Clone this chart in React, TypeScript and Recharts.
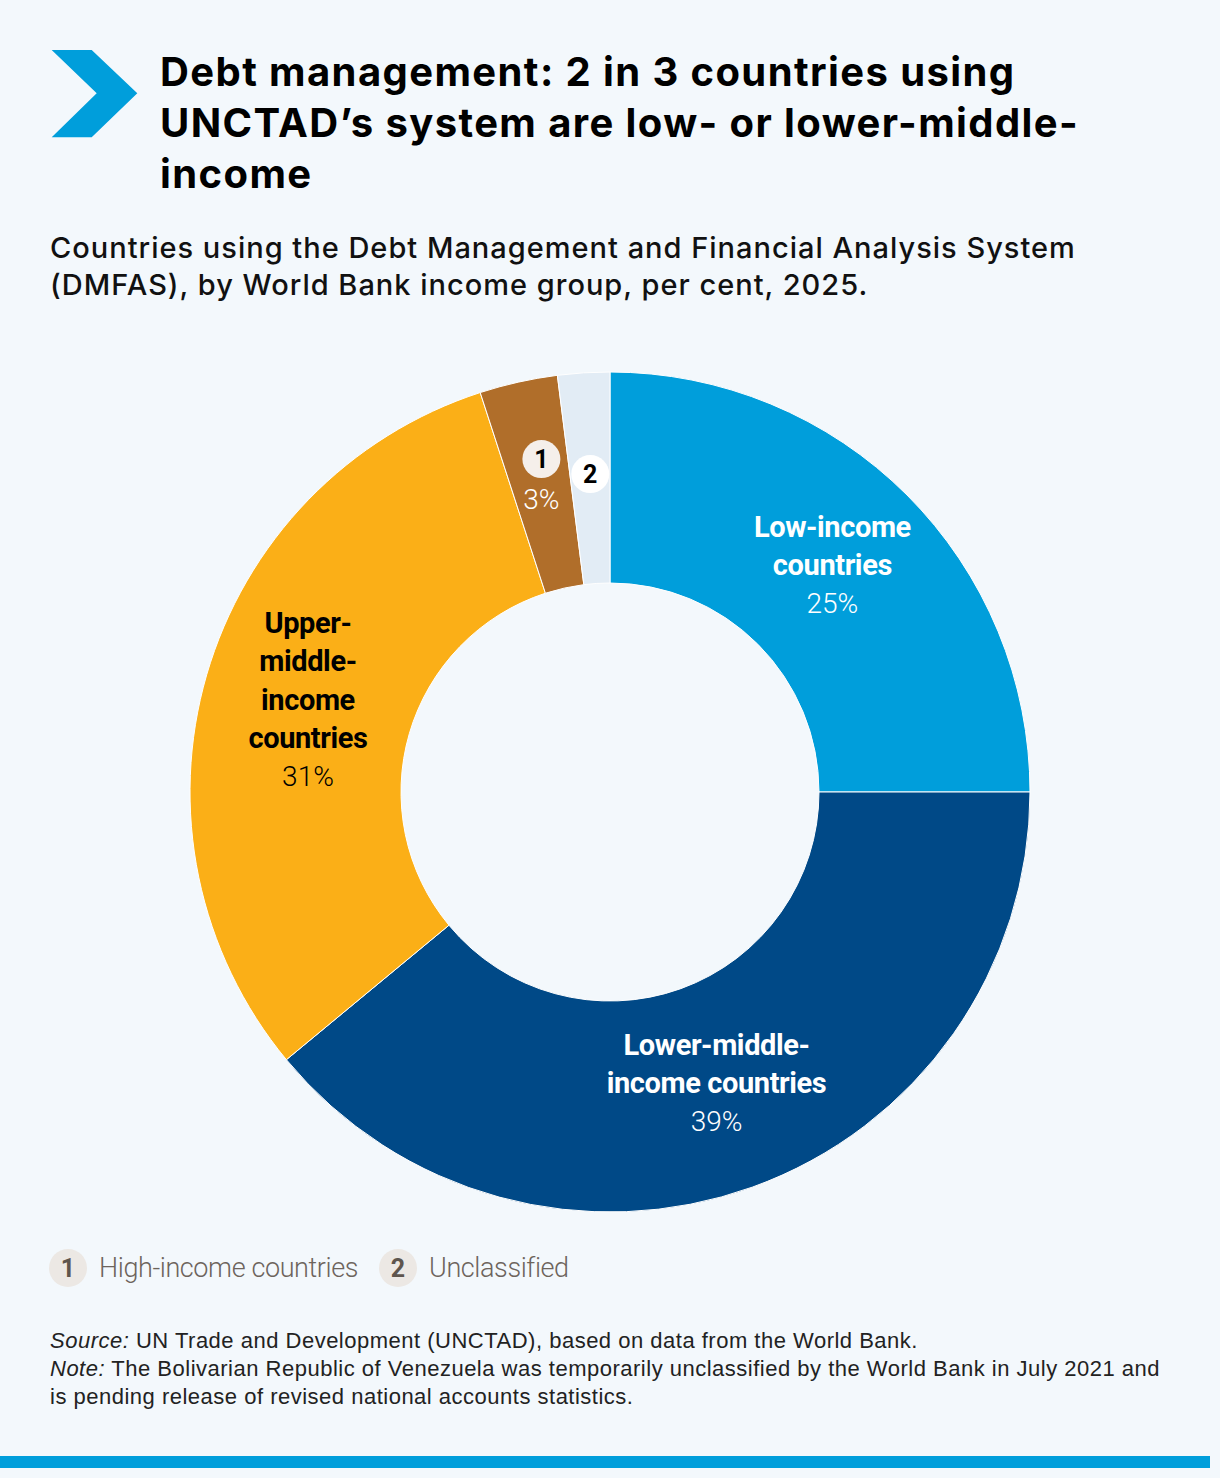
import { Cell, Pie, PieChart } from 'recharts';

const categories = [
  'Low-income countries',
  'Lower-middle-income countries',
  'Upper-middle-income countries',
  'High-income countries',
  'Unclassified',
];
const shares = [25, 39, 31, 3, 2];
const sliceColors = ['#009edb', '#004987', '#fbaf17', '#b06e2a', '#e2ecf5'];
// label lines drawn inside each slice (empty = numbered marker instead)
const sliceLabelLines = [
  ['Low-income', 'countries'],
  ['Lower-middle-', 'income countries'],
  ['Upper-', 'middle-', 'income', 'countries'],
  [],
  [],
];
const markerNumbers = ['', '', '', '1', '2'];
const legendItems = [
  { num: '1', text: 'High-income countries' },
  { num: '2', text: 'Unclassified' },
];

const data = categories.map((name, i) => ({ name, value: shares[i] }));

const RAD = Math.PI / 180;
const BG = '#f3f8fc';

function SliceLabel(props: any) {
  const { cx, cy, midAngle, innerRadius, outerRadius, index } = props;
  const r = (innerRadius + outerRadius) / 2;
  const x = cx + r * Math.cos(-midAngle * RAD);
  const y = cy + r * Math.sin(-midAngle * RAD);
  const lines = sliceLabelLines[index];
  const dark = index === 2;
  const fill = dark ? '#000' : '#fff';
  const lh = 38.5;

  if (lines.length === 0) {
    const num = markerNumbers[index];
    if (index === 3) {
      return (
        <g>
          <circle cx={x} cy={y - 26} r={19} fill="#f5efea" />
          <text x={x} y={y - 26} dy="0.36em" textAnchor="middle" fontFamily="Roboto" fontWeight={700} fontSize={25} fill="#000">{num}</text>
          <text x={x} y={y + 14} dy="0.36em" textAnchor="middle" fontFamily="Roboto" fontWeight={300} fontSize={28} fill="#fff">{shares[index]}%</text>
        </g>
      );
    }
    return (
      <g>
        <circle cx={x} cy={y - 4} r={19} fill="#ffffff" />
        <text x={x} y={y - 4} dy="0.36em" textAnchor="middle" fontFamily="Roboto" fontWeight={700} fontSize={25} fill="#000">{num}</text>
      </g>
    );
  }

  const all = [...lines, `${shares[index]}%`];
  const startY = y - 5 - ((all.length - 1) * lh) / 2;
  return (
    <g>
      {all.map((t, i) => (
        <text
          key={i}
          x={x}
          y={startY + i * lh}
          dy="0.36em"
          textAnchor="middle"
          fontFamily="Roboto"
          fontWeight={i === all.length - 1 ? 300 : 700}
          fontSize={i === all.length - 1 ? 28 : 29}
          letterSpacing={i === all.length - 1 ? 0 : -0.4}
          fill={fill}
        >
          {t}
        </text>
      ))}
    </g>
  );
}

export default function App() {
  return (
    <div
      style={{
        position: 'absolute',
        left: 0,
        top: 0,
        width: 1220,
        height: 1478,
        background: BG,
        overflow: 'hidden',
        fontFamily: '"Liberation Sans", Arial, sans-serif',
        color: '#000',
      }}
    >
      <svg width={140} height={140} style={{ position: 'absolute', left: 0, top: 0 }}>
        <polygon points="51.7,50 91.7,50 137.3,93.3 91.7,137.3 51.7,137.3 96.7,93.3" fill="#009edb" />
      </svg>

      <div
        style={{
          position: 'absolute',
          left: 160,
          top: 46,
          width: 1050,
          fontFamily: 'Inter, sans-serif',
          fontSize: 40,
          lineHeight: '51px',
          fontWeight: 700,
          letterSpacing: 1.4,
          whiteSpace: 'nowrap',
        }}
      >
        Debt management: 2 in 3 countries using
        <br />
        UNCTAD’s system are low- or lower-middle-
        <br />
        income
      </div>

      <div
        style={{
          position: 'absolute',
          left: 50,
          top: 229,
          width: 1160,
          fontFamily: 'Inter, sans-serif',
          fontSize: 29,
          fontWeight: 500,
          lineHeight: '37px',
          letterSpacing: 1.0,
          color: '#111',
          whiteSpace: 'nowrap',
        }}
      >
        Countries using the Debt Management and Financial Analysis System
        <br />
        (DMFAS), by World Bank income group, per cent, 2025.
      </div>

      <div style={{ position: 'absolute', left: 170, top: 352 }}>
        <PieChart width={880} height={880} margin={{ top: 0, right: 0, bottom: 0, left: 0 }}>
          <Pie
            data={data}
            dataKey="value"
            nameKey="name"
            cx={440}
            cy={440}
            innerRadius={209}
            outerRadius={420}
            startAngle={90}
            endAngle={-270}
            stroke="#ffffff"
            strokeWidth={1}
            label={SliceLabel}
            labelLine={false}
            isAnimationActive={false}
          >
            {data.map((d, i) => (
              <Cell key={d.name} fill={sliceColors[i]} />
            ))}
          </Pie>
        </PieChart>
      </div>

      <div
        style={{
          position: 'absolute',
          left: 49,
          top: 1249,
          display: 'flex',
          alignItems: 'center',
          fontFamily: 'Roboto',
        }}
      >
        {legendItems.map((it) => (
          <div key={it.num} style={{ display: 'flex', alignItems: 'center', marginRight: 21 }}>
            <div
              style={{
                width: 38,
                height: 38,
                borderRadius: 19,
                background: '#ece8e4',
                display: 'flex',
                alignItems: 'center',
                justifyContent: 'center',
                fontWeight: 700,
                fontSize: 25,
                color: '#5e554d',
              }}
            >
              {it.num}
            </div>
            <div style={{ marginLeft: 12, fontSize: 27, fontWeight: 300, color: '#6d645c', letterSpacing: -0.4 }}>
              {it.text}
            </div>
          </div>
        ))}
      </div>

      <div
        style={{
          position: 'absolute',
          left: 50,
          top: 1327,
          width: 1160,
          fontSize: 22,
          lineHeight: '28px',
          letterSpacing: 0.5,
          color: '#222',
          whiteSpace: 'nowrap',
        }}
      >
        <i>Source:</i> UN Trade and Development (UNCTAD), based on data from the World Bank.
        <br />
        <i>Note:</i> The Bolivarian Republic of Venezuela was temporarily unclassified by the World Bank in July 2021 and
        <br />
        is pending release of revised national accounts statistics.
      </div>

      <div style={{ position: 'absolute', left: 0, top: 1456, width: 1210, height: 12, background: '#009edb' }} />
    </div>
  );
}
